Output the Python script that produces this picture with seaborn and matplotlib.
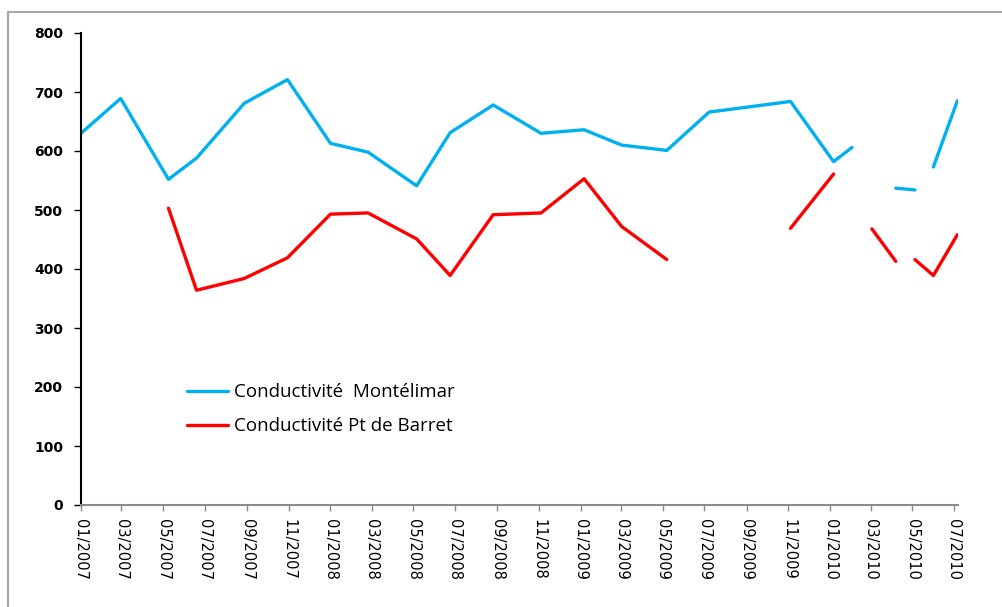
import numpy as np
import pandas as pd
import matplotlib
matplotlib.use("Agg")
import matplotlib.pyplot as plt
import matplotlib.dates as mdates
import seaborn as sns

# -------------------- Data --------------------
# each station has its own sampling dates; None = missing value (line gap)
dates_montelimar = ["2007-01-01", "2007-02-28", "2007-05-09", "2007-06-19", "2007-08-28",
                    "2007-10-30", "2008-01-01", "2008-02-25", "2008-05-06", "2008-06-24",
                    "2008-08-26", "2008-11-04", "2009-01-06", "2009-03-02", "2009-05-07",
                    "2009-07-08", "2009-09-06", "2009-11-04", "2010-01-06", "2010-02-02",
                    "2010-03-03", "2010-04-07", "2010-05-05", "2010-05-18", "2010-06-01",
                    "2010-07-06"]
cond_montelimar = [630, 689, 552, 588, 681,
                   721, 613, 598, 541, 631,
                   678, 630, 636, 610, 601,
                   666, 675, 684, 582, 606,
                   None, 537, 534, None, 573,
                   685]

dates_barret = ["2007-05-09", "2007-06-19", "2007-08-28", "2007-10-30", "2008-01-01",
                "2008-02-25", "2008-05-06", "2008-06-24", "2008-08-26", "2008-11-04",
                "2009-01-06", "2009-03-02", "2009-05-07", "2009-07-08", "2009-11-04",
                "2010-01-06", "2010-02-02", "2010-03-03", "2010-04-07", "2010-04-20",
                "2010-05-05", "2010-06-01", "2010-07-06"]
cond_barret = [503, 364, 384, 419, 493,
               495, 451, 389, 492, 495,
               553, 472, 416, None, 469,
               561, None, 468, 413, None,
               416, 389, 458]

label_montelimar = "Conductivité  Montélimar"
label_barret = "Conductivité Pt de Barret"
palette = {label_montelimar: "#00B0F0", label_barret: "#FF0000"}


def to_frame(dates, values, label):
    d = pd.DataFrame({"date": pd.to_datetime(dates), "value": values})
    d["value"] = pd.to_numeric(d["value"])
    # split into segments at missing values so the line breaks like in Excel
    d["segment"] = d["value"].isna().cumsum()
    d = d.dropna(subset=["value"])
    d["station"] = label
    d["segment"] = label + "_" + d["segment"].astype(str)
    return d


df = pd.concat([to_frame(dates_montelimar, cond_montelimar, label_montelimar),
                to_frame(dates_barret, cond_barret, label_barret)], ignore_index=True)

# -------------------- Plot --------------------
sns.set_style("white")
plt.rcParams["font.family"] = ["DejaVu Sans"]

fig = plt.figure(figsize=(10.03, 6.07), dpi=100)
ax = fig.add_axes([81 / 1003, 1 - 505 / 607, (958 - 81) / 1003, (505 - 33) / 607])

sns.lineplot(data=df, x="date", y="value", hue="station", units="segment",
             estimator=None, palette=palette, linewidth=2.4, ax=ax,
             hue_order=[label_montelimar, label_barret])

ax.set_xlim(pd.Timestamp("2007-01-01"), pd.Timestamp("2010-07-07"))
ax.set_ylim(0, 800)
ax.set_yticks(range(0, 801, 100))
ax.xaxis.set_major_locator(mdates.MonthLocator(bymonth=[1, 3, 5, 7, 9, 11]))
ax.xaxis.set_major_formatter(mdates.DateFormatter("%m/%Y"))
ax.set_xlabel("")
ax.set_ylabel("")

for side in ["top", "right"]:
    ax.spines[side].set_visible(False)
ax.spines["left"].set_color("black")
ax.spines["left"].set_linewidth(1.5)
ax.spines["bottom"].set_color("#8C8C8C")
ax.spines["bottom"].set_linewidth(1.5)

ax.tick_params(axis="y", left=True, length=5, width=1, color="black",
               labelcolor="black", labelsize=10, pad=8)
ax.tick_params(axis="x", bottom=True, length=4, width=1, color="#8C8C8C",
               labelcolor="black", labelsize=10.5, pad=6)
for lbl in ax.get_yticklabels():
    lbl.set_fontweight("bold")
for lbl in ax.get_xticklabels():
    lbl.set_rotation(270)
    lbl.set_ha("center")
    lbl.set_va("top")

leg = ax.legend(loc="center left", bbox_to_anchor=(0.121, 0.203), frameon=False,
                borderpad=0, borderaxespad=0, handlelength=2.2, handletextpad=0.3,
                labelspacing=0.85, prop={"family": "Open Sans", "size": 13.5})
for txt in leg.get_texts():
    txt.set_color("black")
for line in leg.get_lines():
    line.set_linewidth(2.4)

# grey chart-area border (top and left edges visible)
fig.add_artist(plt.Line2D([8 / 1003, 1.0], [1 - 12 / 607, 1 - 12 / 607],
                          color="#A6A6A6", linewidth=1.5, transform=fig.transFigure))
fig.add_artist(plt.Line2D([8 / 1003, 8 / 1003], [0.0, 1 - 12 / 607],
                          color="#A6A6A6", linewidth=1.5, transform=fig.transFigure))

fig.savefig("out.png", dpi=100, facecolor="white")
plt.close(fig)
